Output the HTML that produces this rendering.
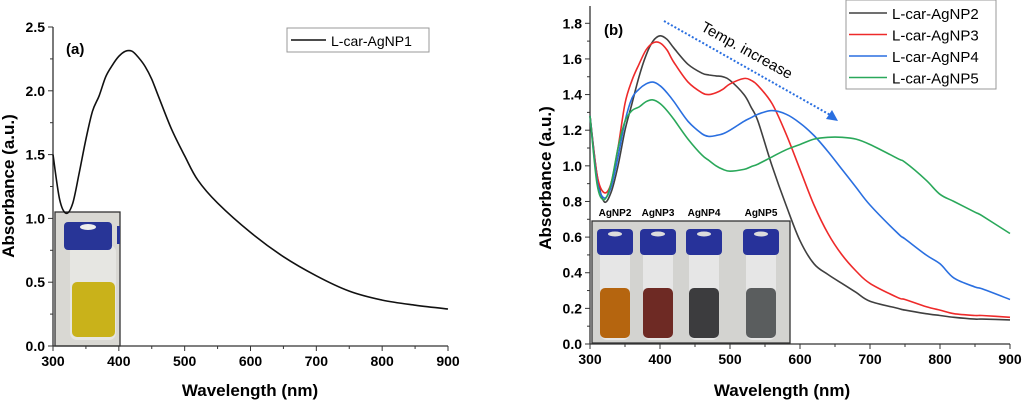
<!DOCTYPE html>
<html><head><meta charset="utf-8"><style>
html,body{margin:0;padding:0;background:#fff}
svg{display:block;font-family:"Liberation Sans",sans-serif}
</style></head><body>
<svg id="s" width="1024" height="404" viewBox="0 0 1024 404">
<g id="pa"></g>
<g id="pb"></g>
</svg>
<script>
const NS='http://www.w3.org/2000/svg';
// Panel (a) data
const aWl=[300,310,320,330,340,350,360,370,380,390,400,410,420,430,440,450,460,480,500,520,550,600,650,700,750,800,850,900];
const aAbs=[1.5,1.15,1.04,1.12,1.36,1.62,1.84,1.96,2.11,2.2,2.27,2.31,2.31,2.26,2.19,2.09,1.96,1.70,1.49,1.30,1.12,0.89,0.70,0.55,0.43,0.36,0.32,0.29];
const aYTicks=[0.0,0.5,1.0,1.5,2.0,2.5];
const xTicks=[300,400,500,600,700,800,900];
// Panel (b) data
const bWl=[300,310,320,330,340,350,360,370,380,390,400,410,420,440,460,470,480,490,500,520,530,540,560,580,600,620,640,660,680,700,740,750,780,800,820,850,860,900];
const np2=[1.28,0.95,0.80,0.85,1.0,1.2,1.35,1.5,1.62,1.70,1.73,1.71,1.66,1.57,1.52,1.51,1.505,1.50,1.48,1.40,1.33,1.25,1.0,0.78,0.58,0.45,0.39,0.34,0.29,0.24,0.2,0.19,0.17,0.16,0.15,0.14,0.14,0.135];
const np3=[1.28,0.95,0.85,0.9,1.1,1.35,1.48,1.57,1.65,1.69,1.69,1.65,1.58,1.47,1.41,1.40,1.41,1.43,1.46,1.49,1.48,1.45,1.35,1.18,0.98,0.78,0.62,0.50,0.41,0.34,0.26,0.25,0.21,0.19,0.17,0.16,0.16,0.15];
const np4=[1.28,0.92,0.82,0.88,1.05,1.25,1.38,1.43,1.46,1.47,1.45,1.41,1.36,1.25,1.18,1.165,1.17,1.18,1.2,1.25,1.27,1.29,1.31,1.29,1.24,1.17,1.08,0.98,0.88,0.78,0.62,0.59,0.5,0.45,0.37,0.32,0.31,0.25];
const np5=[1.28,0.9,0.81,0.9,1.1,1.25,1.31,1.33,1.36,1.37,1.35,1.31,1.26,1.15,1.06,1.03,1.0,0.98,0.97,0.98,0.995,1.01,1.05,1.09,1.12,1.15,1.16,1.16,1.15,1.12,1.04,1.02,0.92,0.84,0.80,0.74,0.72,0.62];
const bSeries=[['L-car-AgNP2',np2,'#404040'],['L-car-AgNP3',np3,'#ee2a2a'],['L-car-AgNP4',np4,'#2a6fe0'],['L-car-AgNP5',np5,'#2aa85a']];
const bYTicks=[0.0,0.2,0.4,0.6,0.8,1.0,1.2,1.4,1.6,1.8];

function el(p,t,a,txt){const e=document.createElementNS(NS,t);for(const k in a)e.setAttribute(k,a[k]);if(txt!=null)e.textContent=txt;p.appendChild(e);return e;}

function axes(g,xs,ys,x0,x1,y0,y1,yt,minorY){
  el(g,'line',{x1:x0,y1:y0,x2:x0,y2:y1,stroke:'#333','stroke-width':1.3});
  el(g,'line',{x1:x0,y1:y0,x2:x1,y2:y0,stroke:'#333','stroke-width':1.3});
  xTicks.forEach((v,i)=>{const x=xs(v);
    el(g,'line',{x1:x,y1:y0,x2:x,y2:y0+5,stroke:'#333'});
    if(i<xTicks.length-1)el(g,'line',{x1:xs(v+50),y1:y0,x2:xs(v+50),y2:y0+3,stroke:'#333'});
    const t=el(g,'text',{x:x,y:y0+20,'text-anchor':'middle','font-size':14,'font-weight':'bold'},String(v));
    
  });
  yt.forEach((v,i)=>{const y=ys(v);
    el(g,'line',{x1:x0,y1:y,x2:x0-5,y2:y,stroke:'#333'});
    if(i<yt.length-1)el(g,'line',{x1:x0,y1:ys(v+minorY),x2:x0-3,y2:ys(v+minorY),stroke:'#333'});
    const t=el(g,'text',{x:x0-8,y:y+5,'text-anchor':'end','font-size':14,'font-weight':'bold'},v.toFixed(1));
    
  });
}
function path(g,xs,ys,xa,ya,col){
  const P=xa.map((v,i)=>[xs(v),ys(ya[i])]);
  let d='M'+P[0][0].toFixed(1)+','+P[0][1].toFixed(1);
  for(let i=0;i<P.length-1;i++){
    const p0=P[Math.max(0,i-1)],p1=P[i],p2=P[i+1],p3=P[Math.min(P.length-1,i+2)];
    const c1=[p1[0]+(p2[0]-p0[0])/6,p1[1]+(p2[1]-p0[1])/6],c2=[p2[0]-(p3[0]-p1[0])/6,p2[1]-(p3[1]-p1[1])/6];
    d+='C'+c1.map(n=>n.toFixed(1)).join(',')+' '+c2.map(n=>n.toFixed(1)).join(',')+' '+p2.map(n=>n.toFixed(1)).join(',');
  }
  return el(g,'path',{d:d,fill:'none',stroke:col,'stroke-width':1.6,'stroke-linejoin':'round'});
}

// Panel A
(function(){
  const g=document.getElementById('pa');
  const xs=v=>53+(v-300)*(448-53)/600, ys=v=>346-v*(346-27)/2.5;
  const ph=el(g,'g',{});
  el(ph,'rect',{x:55,y:212,width:65,height:134,fill:'#d9d8d3',stroke:'#333','stroke-width':1.3});
  el(ph,'rect',{x:70,y:245,width:46,height:95,fill:'#e6e6e2',rx:7});
  el(ph,'rect',{x:72,y:282,width:43,height:55,fill:'#c9b21a',rx:5});
  el(ph,'rect',{x:64,y:222,width:48,height:28,fill:'#283597',rx:4});
  el(ph,'ellipse',{cx:88,cy:227,rx:8,ry:3,fill:'#eee'});
  el(ph,'rect',{x:117,y:226,width:3,height:18,fill:'#283597'});
  axes(g,xs,ys,53,448,346,27,aYTicks,0.25);
  const p=path(g,xs,ys,aWl,aAbs,'#111');
  el(g,'text',{x:66,y:54,'font-size':15,'font-weight':'bold'},'(a)');
  const lg=el(g,'g',{});
  el(lg,'rect',{x:287,y:28,width:142,height:24,fill:'#fff',stroke:'#999'});
  el(lg,'line',{x1:291,y1:40,x2:326,y2:40,stroke:'#111','stroke-width':1.6});
  el(lg,'text',{x:331,y:46,'font-size':14},'L-car-AgNP1');
  const xt=el(g,'text',{x:250,y:396,'text-anchor':'middle','font-size':17,'font-weight':'bold'},'Wavelength (nm)');
  
  const yt=el(g,'text',{x:14,y:186,'text-anchor':'middle','font-size':17,'font-weight':'bold',transform:'rotate(-90 14 186)'},'Absorbance (a.u.)');
  
})();

// Panel B
(function(){
  const g=document.getElementById('pb');
  const xs=v=>590+(v-300)*(1010-590)/600, ys=v=>344-v*(344-23.3)/1.8;
  const ph=el(g,'g',{});
  el(ph,'rect',{x:592,y:221,width:198,height:122,fill:'#d3d3d0',stroke:'#333','stroke-width':1.3});
  const vx=[597,640,686,743],cols=['#b5650f','#6e2a24','#3c3c3e','#5a5d5e'],names=['AgNP2','AgNP3','AgNP4','AgNP5'];
  vx.forEach((x,i)=>{
    el(ph,'rect',{x:x+3,y:243,width:30,height:97,fill:'#e6e6e6',rx:7});
    el(ph,'rect',{x:x+3,y:288,width:30,height:50,fill:cols[i],rx:5});
    el(ph,'rect',{x:x,y:229,width:36,height:26,fill:'#27329a',rx:4});
    el(ph,'ellipse',{cx:x+18,cy:234,rx:7,ry:2.5,fill:'#ddd'});
    const t=el(g,'text',{x:x+18,y:216,'text-anchor':'middle','font-size':10,'font-weight':'bold'},names[i]);
    
  });
  axes(g,xs,ys,590,1010,344,6,bYTicks,0.1);
  bSeries.forEach(s=>{const p=path(g,xs,ys,bWl,s[1],s[2]);
    });
  el(g,'text',{x:604,y:35,'font-size':15,'font-weight':'bold'},'(b)');
  const ar=el(g,'g',{});
  el(ar,'line',{x1:664,y1:21,x2:832,y2:116,stroke:'#2a6fe0','stroke-width':2,'stroke-dasharray':'2,2'});
  el(ar,'polygon',{points:'838,121 826,119 832,110',fill:'#2a6fe0'});
  el(ar,'text',{x:700,y:30,'font-size':15,transform:'rotate(29 700 30)'},'Temp. increase');
  const lg=el(g,'g',{});
  el(lg,'rect',{x:846,y:0,width:150,height:89,fill:'#fff',stroke:'#999'});
  bSeries.forEach((s,i)=>{const y=13+i*21.5;
    el(lg,'line',{x1:849,y1:y,x2:887,y2:y,stroke:s[2],'stroke-width':1.6});
    el(lg,'text',{x:892,y:y+6,'font-size':15},s[0]);});
  const xt=el(g,'text',{x:782,y:396,'text-anchor':'middle','font-size':17,'font-weight':'bold'},'Wavelength (nm)');
  
  const yt=el(g,'text',{x:551,y:178,'text-anchor':'middle','font-size':17,'font-weight':'bold',transform:'rotate(-90 551 178)'},'Absorbance (a.u.)');
  
})();
</script>
</body></html>
